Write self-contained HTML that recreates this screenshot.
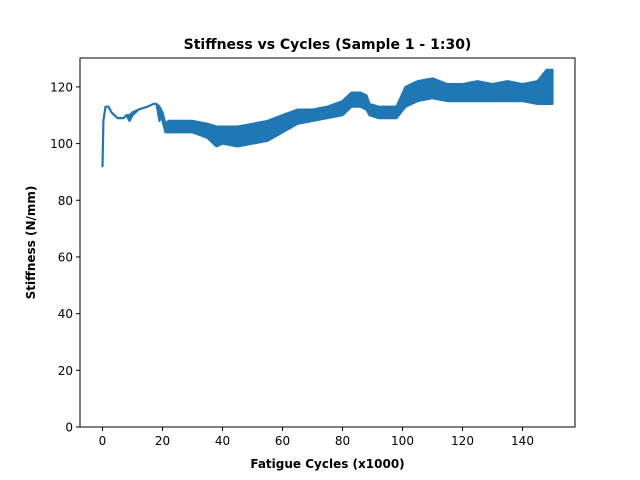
<!DOCTYPE html>
<html><head><meta charset="utf-8"><style>
html,body{margin:0;padding:0;background:#fff;}
svg{display:block;font-family:"DejaVu Sans","Liberation Sans",sans-serif;}
</style></head><body>
<svg id="chart" width="640" height="480">
<rect x="0" y="0" width="640" height="480" fill="#fff"/>
<text x="327.5" y="49" text-anchor="middle" font-size="14" font-weight="bold">Stiffness vs Cycles (Sample 1 - 1:30)</text>
<g id="plot"></g>
<text x="327.5" y="468" text-anchor="middle" font-size="12" font-weight="bold">Fatigue Cycles (x1000)</text>
<text transform="translate(35,242.5) rotate(-90)" text-anchor="middle" font-size="12" font-weight="bold">Stiffness (N/mm)</text>
</svg>
<script>
const cycles = [0,0.3,1,2,3,5,7,8,9,10,12,15,17,18,19,19.5,20,21,22,25,30,35,38,40,45,50,55,60,65,70,75,80,83,86,88,89,92,95,98,101,105,110,115,120,125,130,135,140,145,148,150];
const stiffHigh = [92,108,113,113,111,109,109,110,110,111,112,113,114,114,113,112,111,107,108,108,108,107,106,106,106,107,108,110,112,112,113,115,118,118,117,114,113,113,113,120,122,123,121,121,122,121,122,121,122,126,126];
const stiffLow = [92,108,113,113,111,109,109,110,108,110,112,113,114,114,108,110,108,104,104,104,104,102,99,100,99,100,101,104,107,108,109,110,113,113,112,110,109,109,109,113,115,116,115,115,115,115,115,115,114,114,114];
const xTicks = [0,20,40,60,80,100,120,140];
const yTicks = [0,20,40,60,80,100,120];

const L=80,R=575,T=58,B=427, xmin=-7.5,xmax=157.5, ymin=0,ymax=130.2;
function sx(v){return L+(v-xmin)/(xmax-xmin)*(R-L);}
function sy(v){return B-(v-ymin)/(ymax-ymin)*(B-T);}
const NS="http://www.w3.org/2000/svg";
const g=document.getElementById('plot');
function mk(tag,attrs,parent){const e=document.createElementNS(NS,tag);for(const k in attrs)e.setAttribute(k,attrs[k]);(parent||g).appendChild(e);return e;}

let d='';
for(let i=0;i<cycles.length;i++)d+=(i?'L':'M')+sx(cycles[i]).toFixed(1)+','+sy(stiffHigh[i]).toFixed(1);
for(let i=cycles.length-1;i>=0;i--)d+='L'+sx(cycles[i]).toFixed(1)+','+sy(stiffLow[i]).toFixed(1);
d+='Z';
const band=mk('path',{d:d,fill:'#1f77b4',stroke:'#1f77b4','stroke-width':2.2,'stroke-linejoin':'round'});



const frame=mk('rect',{x:L,y:T,width:R-L,height:B-T,fill:'none',stroke:'#000','stroke-width':1});



xTicks.forEach(v=>{
  const x=sx(v);
  const t=mk('line',{x1:x,x2:x,y1:B,y2:B+4,stroke:'#000'});
  
  
  const l=mk('text',{x:x,y:B+18,'text-anchor':'middle','font-size':12});
  l.textContent=v;
  
  
});
yTicks.forEach(v=>{
  const y=sy(v);
  const t=mk('line',{x1:L-4,x2:L,y1:y,y2:y,stroke:'#000'});
  
  
  const l=mk('text',{x:L-7,y:y+4.5,'text-anchor':'end','font-size':12});
  l.textContent=v;
  
  
});
</script>
</body></html>
